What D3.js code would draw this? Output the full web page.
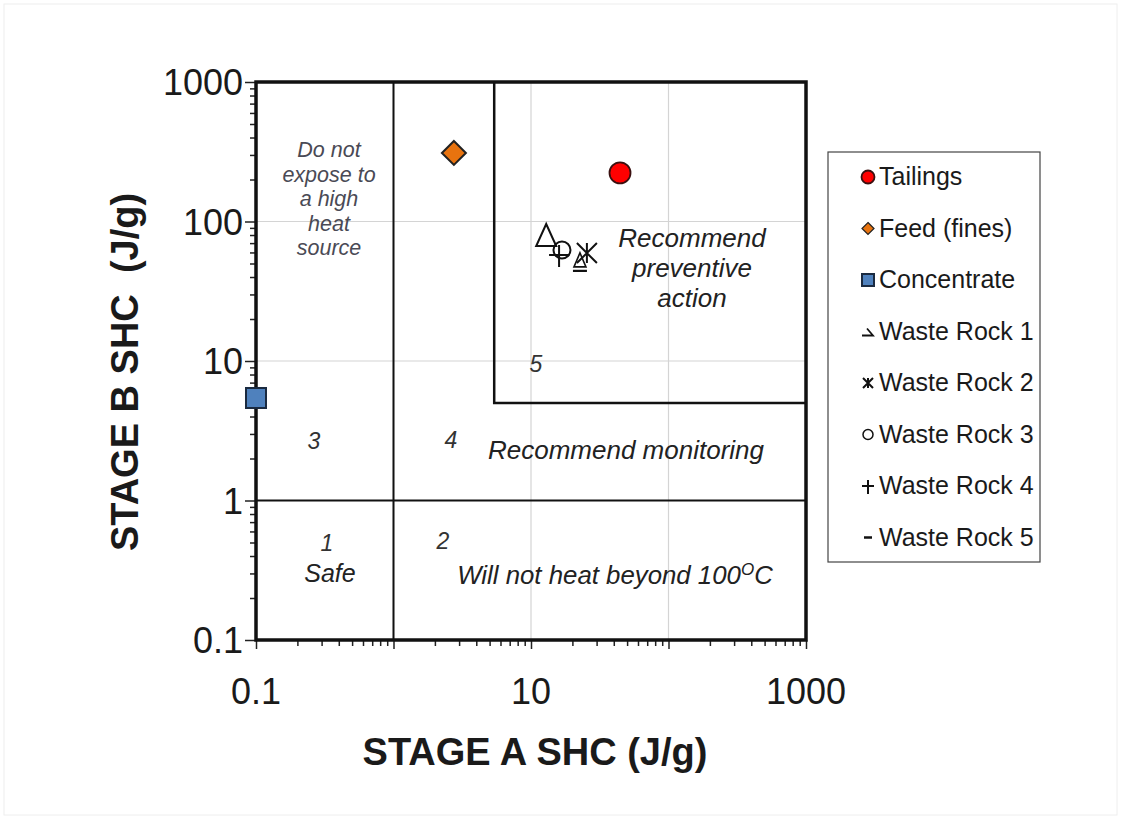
<!DOCTYPE html>
<html><head><meta charset="utf-8">
<script src="https://cdn.jsdelivr.net/npm/d3@7"></script>
<style>
body{margin:0;background:#fff;}
svg{font-family:"Liberation Sans",Arial,sans-serif;}
</style></head>
<body>
<svg id="c" width="1121" height="819"></svg>
<script>
// ---- data ----
const seriesNames = ["Tailings","Feed (fines)","Concentrate","Waste Rock 1","Waste Rock 2","Waste Rock 3","Waste Rock 4","Waste Rock 5"];
const stageA = [44.4, 2.75, 0.1, 12.9, 25.5, 16.8, 16.0, 22.7];
const stageB = [223, 310, 5.43, 77.4, 59.4, 62.5, 57.5, 45];
const xTickValues = [0.1, 10, 1000];
const xTickLabels = ["0.1","10","1000"];
const yTickValues = [0.1, 1, 10, 100, 1000];
const yTickLabels = ["0.1","1","10","100","1000"];
const zoneX = 1, zoneY = 1;        // boundary lines
const zone5X = 5.4, zone5Y = 5;    // preventive-action box corner

const svg = d3.select("#c");
const L=256, R=806, T=82, B=640;
const x = d3.scaleLog().domain([0.1,1000]).range([L,R]);
const y = d3.scaleLog().domain([0.1,1000]).range([B,T]);

// faint frame
svg.append("rect").attr("x",4).attr("y",4).attr("width",1113).attr("height",811)
  .attr("fill","none").attr("stroke","#eeeeee").attr("stroke-width",1);

// gridlines
const decades=[0.1,1,10,100,1000];
svg.append("g").selectAll("line").data(decades.slice(1,-1)).join("line")
  .attr("x1",d=>x(d)).attr("x2",d=>x(d)).attr("y1",T).attr("y2",B)
  .attr("stroke","#d4d4d4").attr("stroke-width",1.2);
svg.append("g").selectAll("line").data(decades.slice(1,-1)).join("line")
  .attr("y1",d=>y(d)).attr("y2",d=>y(d)).attr("x1",L).attr("x2",R)
  .attr("stroke","#d4d4d4").attr("stroke-width",1.2);

// zone lines
const zl = svg.append("g").attr("stroke","#111").attr("fill","none");
zl.append("line").attr("x1",x(zoneX)).attr("x2",x(zoneX)).attr("y1",T).attr("y2",B).attr("stroke-width",2);
zl.append("line").attr("x1",L).attr("x2",R).attr("y1",y(zoneY)).attr("y2",y(zoneY)).attr("stroke-width",2);
zl.append("path").attr("d",`M${x(zone5X)},${T} V${y(zone5Y)} H${R}`).attr("stroke-width",2.5);

// minor ticks
const minors=[];
for(let e=-1;e<3;e++){for(let k=2;k<=9;k++){minors.push(k*Math.pow(10,e));}}
svg.append("g").attr("transform",`translate(0,${B})`)
  .call(d3.axisBottom(x).tickValues(minors).tickSize(6).tickFormat(""))
  .call(g=>g.select(".domain").remove())
  .call(g=>g.selectAll("line").attr("stroke","#222").attr("stroke-width",1.5));
svg.append("g").attr("transform",`translate(${L},0)`)
  .call(d3.axisLeft(y).tickValues(minors).tickSize(6).tickFormat(""))
  .call(g=>g.select(".domain").remove())
  .call(g=>g.selectAll("line").attr("stroke","#222").attr("stroke-width",1.5));
// major ticks
svg.append("g").attr("transform",`translate(0,${B})`)
  .call(d3.axisBottom(x).tickValues(decades).tickSize(9).tickFormat(""))
  .call(g=>g.select(".domain").remove())
  .call(g=>g.selectAll("line").attr("stroke","#222").attr("stroke-width",1.5));
svg.append("g").attr("transform",`translate(${L},0)`)
  .call(d3.axisLeft(y).tickValues(decades).tickSize(11).tickFormat(""))
  .call(g=>g.select(".domain").remove())
  .call(g=>g.selectAll("line").attr("stroke","#222").attr("stroke-width",1.5));

// plot border
svg.append("rect").attr("x",L).attr("y",T).attr("width",R-L).attr("height",B-T)
  .attr("fill","none").attr("stroke","#111").attr("stroke-width",3.5);

// tick labels
svg.append("g").selectAll("text").data(xTickValues).join("text")
  .attr("x",d=>x(d)).attr("y",B+64).attr("text-anchor","middle")
  .attr("font-size",36).attr("fill","#1a1a1a").text((d,i)=>xTickLabels[i]);
svg.append("g").selectAll("text").data(yTickValues).join("text")
  .attr("x",L-13).attr("y",d=>y(d)+13).attr("text-anchor","end")
  .attr("font-size",36).attr("fill","#1a1a1a").text((d,i)=>yTickLabels[i]);

// axis titles
svg.append("text").attr("x",535).attr("y",765).attr("text-anchor","middle")
  .attr("font-size",38).attr("font-weight","bold").attr("fill","#1a1a1a").text("STAGE A SHC (J/g)");
svg.append("text").attr("transform","translate(138,372) rotate(-90)").attr("text-anchor","middle")
  .attr("font-size",38).attr("font-weight","bold").attr("fill","#1a1a1a")
  .attr("xml:space","preserve").style("white-space","pre").text("STAGE B SHC  (J/g)");

// zone annotations
const ann = svg.append("g").attr("font-style","italic").attr("fill","#333");
function lines(g,xc,ys,arr,fs,fill){
  arr.forEach((t,i)=>g.append("text").attr("x",xc).attr("y",ys[i]).attr("text-anchor","middle")
    .attr("font-size",fs).attr("fill",fill||"#333").text(t));
}
lines(ann,329,[157,182,206,231,255],["Do not","expose to","a high","heat","source"],21.5,"#4a4a55");
lines(ann,692,[247,277,307],["Recommend","preventive","action"],26,"#222");
lines(ann,536,[372],["5"],23);
lines(ann,314,[449],["3"],23);
lines(ann,451,[448],["4"],23);
lines(ann,626,[459],["Recommend monitoring"],26,"#222");
lines(ann,327,[551],["1"],23);
lines(ann,330,[582],["Safe"],25,"#222");
lines(ann,443,[549],["2"],23);
const wt = ann.append("text").attr("x",615).attr("y",584).attr("text-anchor","middle")
  .attr("font-size",25.8).attr("fill","#222");
wt.append("tspan").text("Will not heat beyond 100");
wt.append("tspan").attr("dy",-9).attr("font-size",17).text("O");
wt.append("tspan").attr("dy",9).text("C");

// marker drawers
function drawMarker(g,i,cx,cy,legend){
  switch(i){
    case 0: g.append("circle").attr("cx",cx).attr("cy",cy).attr("r",legend?6.5:10.5)
      .attr("fill","#ff0000").attr("stroke","#3a1010").attr("stroke-width",1.8); break;
    case 1: { const r=legend?6:12; g.append("path").attr("d",`M${cx},${cy-r}L${cx+r},${cy}L${cx},${cy+r}L${cx-r},${cy}Z`)
      .attr("fill","#e8730f").attr("stroke","#222").attr("stroke-width",legend?1.2:2); } break;
    case 2: { const r=legend?6:10; g.append("rect").attr("x",cx-r).attr("y",cy-r).attr("width",2*r).attr("height",2*r)
      .attr("fill","#4f81bd").attr("stroke","#1a2a40").attr("stroke-width",2); } break;
    case 3: if(legend){ g.append("path").attr("d",`M${cx-6},${cy+4}H${cx+5}L${cx-1},${cy-3}`)
        .attr("fill","none").attr("stroke","#111").attr("stroke-width",1.8); }
      else { g.append("path").attr("d",`M${cx},${cy-13}L${cx+10},${cy+9}H${cx-10}Z`)
        .attr("fill","none").attr("stroke","#111").attr("stroke-width",2); } break;
    case 4: { const r=legend?5:10; g.append("path")
        .attr("d",`M${cx-r},${cy-r}L${cx+r},${cy+r}M${cx+r},${cy-r}L${cx-r},${cy+r}M${cx},${cy-r}V${cy+r}`)
        .attr("fill","none").attr("stroke","#111").attr("stroke-width",2); } break;
    case 5: g.append("circle").attr("cx",cx).attr("cy",cy).attr("r",legend?5:8.5)
      .attr("fill","none").attr("stroke","#111").attr("stroke-width",legend?1.5:2); break;
    case 6: { const r=legend?6:10; g.append("path")
        .attr("d",`M${cx-r},${cy}H${cx+r}M${cx},${cy-r}V${cy+r+2}`)
        .attr("fill","none").attr("stroke","#111").attr("stroke-width",2); } break;
    case 7: if(legend){ g.append("path").attr("d",`M${cx-4},${cy}H${cx+4}`)
        .attr("stroke","#111").attr("stroke-width",2.5); }
      else { g.append("path").attr("d",`M${cx},${cy-17}L${cx+6},${cy-3}H${cx-6}Z`)
          .attr("fill","none").attr("stroke","#111").attr("stroke-width",1.6);
        g.append("path").attr("d",`M${cx-7},${cy+1}H${cx+7}`).attr("stroke","#111").attr("stroke-width",2.2); } break;
  }
}
const pts = svg.append("g");
seriesNames.forEach((n,i)=>drawMarker(pts,i,x(stageA[i]),y(stageB[i]),false));

// legend
const lg = svg.append("g");
lg.append("rect").attr("x",828).attr("y",152).attr("width",212).attr("height",410)
  .attr("fill","#fff").attr("stroke","#444").attr("stroke-width",1.2);
seriesNames.forEach((n,i)=>{
  const cy = 177 + i*51.5;
  drawMarker(lg,i,868,cy,true);
  lg.append("text").attr("x",879).attr("y",cy+8).attr("font-size",25).attr("fill","#1a1a1a").text(n);
});
</script>
</body></html>
